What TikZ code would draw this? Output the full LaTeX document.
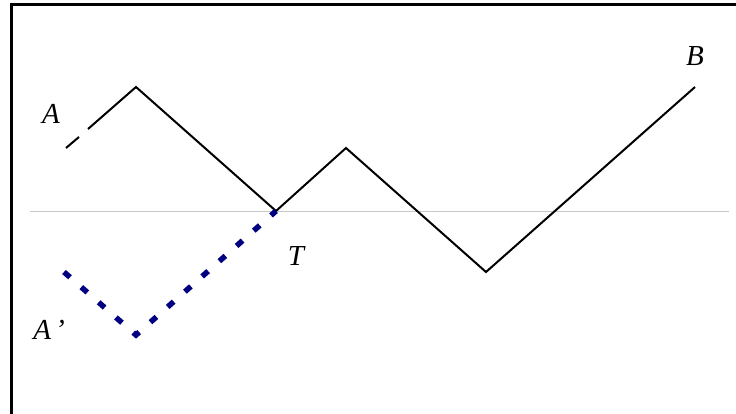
\documentclass[tikz,border=0pt]{standalone}
\usepackage{fontspec}
\setmainfont{Liberation Serif}
\begin{document}
\begin{tikzpicture}[x=1pt,y=-1pt,
  lab/.style={font=\fontsize{29}{34}\selectfont\itshape, inner sep=0pt},
  pathline/.style={line width=2pt, black, line join=miter},
  mirror/.style={line width=5.5pt, color={rgb,255:red,0;green,0;blue,128}, dash pattern=on 8pt off 15pt},
  axis/.style={line width=0.8pt, color={rgb,255:red,200;green,200;blue,200}}]
\useasboundingbox (0,0) rectangle (736,414);
\fill[white] (0,0) rectangle (736,414);
\draw[line width=3pt] (11,440) -- (11,5) -- (760,5);
% axis
\coordinate (L) at (30,211);
\coordinate (R) at (729,211);
\draw[axis] (L) -- (R);
% points
\coordinate (A) at (66,148);
\coordinate (A1) at (79,137);
\coordinate (A2) at (88,129);
\coordinate (P1) at (136,87);
\coordinate (T) at (276,211);
\coordinate (P2) at (346,148);
\coordinate (P3) at (486,272);
\coordinate (B) at (695,87);
\coordinate (Ap) at (64,272);
\coordinate (Q) at (136,335);
\draw[pathline] (A) -- (A1);
\draw[pathline] (A2) -- (P1) -- (T) -- (P2) -- (P3) -- (B);
\draw[mirror] (Ap) -- (Q) -- (T);
% labels
\node[lab] (lA) at (51,114) {A};
\node[lab] (lB) at (695,56) {B};
\node[lab] (lT) at (296,256) {T};
\node[lab] (lAp) at (49,330) {A\hspace{4pt}’};
\end{tikzpicture}
\end{document}
